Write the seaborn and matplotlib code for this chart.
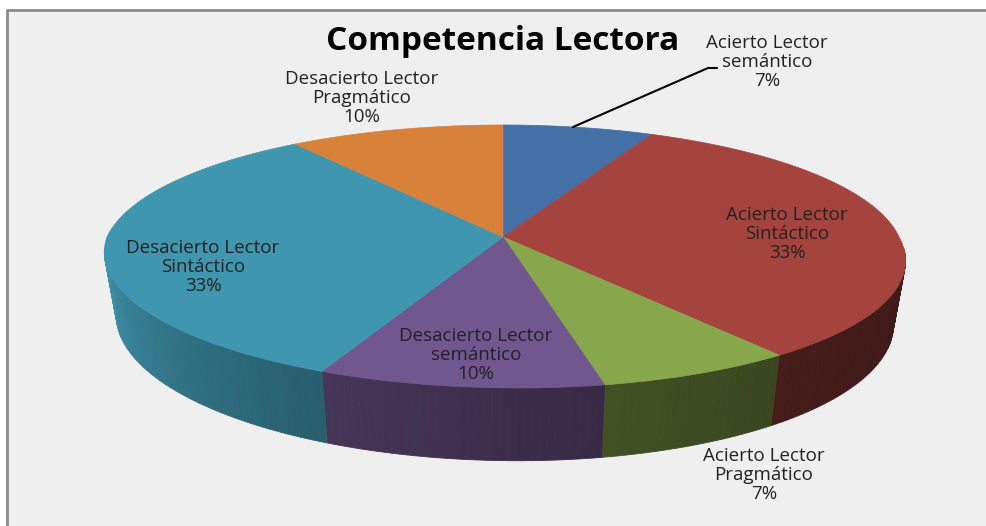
import numpy as np
import matplotlib
matplotlib.use("Agg")
import matplotlib.pyplot as plt
from matplotlib.patches import Polygon, Rectangle
import seaborn as sns

# data
title = "Competencia Lectora"
labels = ["Acierto Lector\nsemántico", "Acierto Lector\nSintáctico", "Acierto Lector\nPragmático",
          "Desacierto Lector\nsemántico", "Desacierto Lector\nSintáctico", "Desacierto Lector\nPragmático"]
values = [7, 33, 7, 10, 33, 10]
hex_colors = ["#4570a6", "#a5443f", "#88a64c", "#70578d", "#4096ae", "#d8813b"]

sns.set_style("white")
plt.rcParams["font.family"] = ["Open Sans", "DejaVu Sans"]
palette = sns.color_palette(hex_colors)

# pie geometry, pixel coords (fake 3D with a bit of perspective)
cx, cy = 503, 237
kx, ky, e = 396, 128.6, 0.148
depth = 62
skew = 0.1


def rim(theta, bottom=False):
    c = np.cos(theta)
    s = np.sin(theta)
    d = 1 + e * c
    x = cx + kx * s / d
    y = cy - ky * c / d
    x = x + skew * np.maximum(y - cy, 0)
    if bottom:
        x = cx + (x - cx) * 0.97
        y = y + depth / d
    return x, y


def shade(deg):
    t = np.clip((deg - 100) / 160, 0, 1)
    return 0.38 + 0.57 * t ** 2


fig = plt.figure(figsize=(9.87, 5.26), dpi=100, facecolor="white")
ax = fig.add_axes([0, 0, 1, 1])
ax.set_xlim(0, 987)
ax.set_ylim(526, 0)
ax.axis("off")

# chart area: only left and top borders are visible
ax.add_patch(Rectangle((6.5, 9.5), 1000, 540, facecolor="#efefef", edgecolor="none", zorder=0))
ax.plot([6.5, 6.5, 987], [526, 9.5, 9.5], color="#8a8a8a", lw=2, zorder=0.5)

total = sum(values)
bounds = np.concatenate([[0], np.cumsum(values)]) / total * 360

# sides (only the front part is visible)
for i, col in enumerate(palette):
    a0, a1 = max(bounds[i], 95), min(bounds[i + 1], 265)
    if a1 <= a0:
        continue
    steps = np.arange(a0, a1, 1.0)
    steps = np.append(steps, a1)
    for s0, s1 in zip(steps[:-1], steps[1:]):
        t = np.radians([s0, s1])
        xt, yt = rim(t)
        xb, yb = rim(t, bottom=True)
        f = shade((s0 + s1) / 2)
        c = tuple(np.array(col) * f)
        ax.add_patch(Polygon([(xt[0], yt[0]), (xt[1], yt[1]), (xb[1], yb[1]), (xb[0], yb[0])],
                             closed=True, facecolor=c, edgecolor=c, lw=0.6, zorder=1))

# top faces
for i, col in enumerate(palette):
    t = np.radians(np.linspace(bounds[i], bounds[i + 1], 200))
    xs, ys = rim(t)
    pts = [(cx, cy)] + list(zip(xs, ys))
    ax.add_patch(Polygon(pts, closed=True, facecolor=col, edgecolor=col, lw=0.5, zorder=2))

# data labels
label_pos = [(767, 62), (787, 234), (764, 475), (476, 355), (203, 267), (362, 98)]
for lab, v, (x, y) in zip(labels, values, label_pos):
    ax.text(x, y, f"{lab}\n{v}%", ha="center", va="center", multialignment="center",
            fontsize=13.5, color="#222222", linespacing=1.05, zorder=3)

# leader line for the small slice
ax.plot([573, 708, 717], [127, 68, 68], color="black", lw=1.5, zorder=3)

ax.text(503, 42, title, ha="center", va="center", fontsize=24, fontweight="bold", color="black", zorder=3)

fig.savefig("out.png", dpi=100, facecolor="white")
